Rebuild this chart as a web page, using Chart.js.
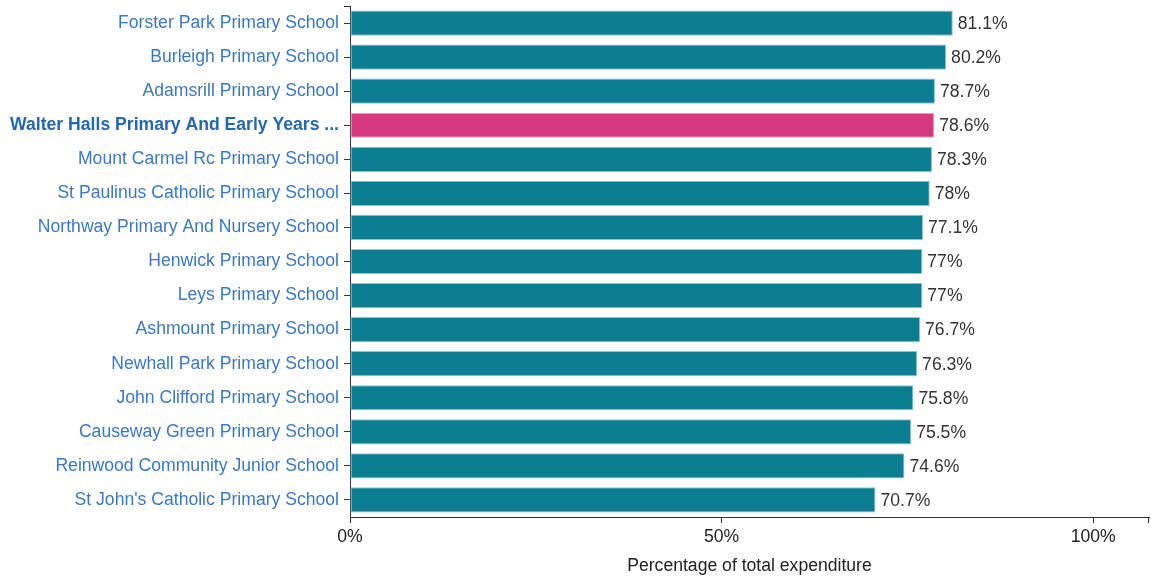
<!DOCTYPE html>
<html>
<head>
<meta charset="utf-8">
<script src="https://cdn.jsdelivr.net/npm/chart.js@4/dist/chart.umd.min.js"></script>
<style>
  body { margin: 0; background: #fff; }
  #wrap { width: 1151px; height: 580px; }
</style>
</head>
<body>
<div id="wrap"><canvas id="bar-chart" width="1151" height="580"></canvas></div>
<script>
const schools = [
  "Forster Park Primary School",
  "Burleigh Primary School",
  "Adamsrill Primary School",
  "Walter Halls Primary And Early Years ...",
  "Mount Carmel Rc Primary School",
  "St Paulinus Catholic Primary School",
  "Northway Primary And Nursery School",
  "Henwick Primary School",
  "Leys Primary School",
  "Ashmount Primary School",
  "Newhall Park Primary School",
  "John Clifford Primary School",
  "Causeway Green Primary School",
  "Reinwood Community Junior School",
  "St John's Catholic Primary School",
];
const percentages = [81.1, 80.2, 78.7, 78.6, 78.3, 78, 77.1, 77, 77, 76.7, 76.3, 75.8, 75.5, 74.6, 70.7];
const highlightIndex = 3;
const xTicks = [0, 50, 100];
const xMax = 107.5;

const teal = "#0b7e92";
const pink = "#d6387f";
const font = "Arial, 'Liberation Sans', sans-serif";
const fontSize = 17.6;

const valueLabels = {
  id: "valueLabels",
  afterDatasetsDraw(chart) {
    const ctx = chart.ctx;
    const meta = chart.getDatasetMeta(0);
    ctx.save();
    ctx.font = fontSize + "px " + font;
    ctx.fillStyle = "#333";
    ctx.textBaseline = "middle";
    ctx.textAlign = "left";
    meta.data.forEach((bar, i) => {
      ctx.fillText(percentages[i] + "%", bar.x + 5, bar.y + 1);
    });
    ctx.restore();
  },
};

// outer ticks at the axis ends, like the d3 original
const outerTicks = {
  id: "outerTicks",
  afterDraw(chart) {
    const { left, right, top, bottom } = chart.chartArea;
    const ctx = chart.ctx;
    ctx.save();
    ctx.strokeStyle = "#333";
    ctx.lineWidth = 1;
    ctx.beginPath();
    ctx.moveTo(left - 6, top + 0.5);
    ctx.lineTo(left, top + 0.5);
    ctx.moveTo(right - 0.5, bottom);
    ctx.lineTo(right - 0.5, bottom + 6);
    ctx.stroke();
    ctx.restore();
  },
};

new Chart(document.getElementById("bar-chart"), {
  type: "bar",
  data: {
    labels: schools,
    datasets: [
      {
        data: percentages,
        backgroundColor: percentages.map((v, i) => (i === highlightIndex ? pink : teal)),
        borderColor: percentages.map((v, i) => (i === highlightIndex ? "#eaa2c2" : "#8cc3cf")),
        borderWidth: 1,
        borderSkipped: false,
        barPercentage: 0.74,
        categoryPercentage: 1,
      },
    ],
  },
  plugins: [valueLabels, outerTicks],
  options: {
    indexAxis: "y",
    responsive: false,
    animation: false,
    devicePixelRatio: 1,
    layout: { padding: { top: 6, right: 2, left: 0, bottom: 0 } },
    plugins: {
      legend: { display: false },
      tooltip: { enabled: false },
    },
    scales: {
      x: {
        min: 0,
        max: xMax,
        afterBuildTicks: (axis) => {
          axis.ticks = xTicks.map((v) => ({ value: v }));
        },
        afterFit: (axis) => {
          axis.height = 63;
        },
        grid: {
          drawOnChartArea: false,
          drawTicks: true,
          tickLength: 6,
          color: "#333",
        },
        border: { display: true, color: "#333", width: 1 },
        ticks: {
          padding: 4,
          color: "#222",
          font: { family: font, size: fontSize },
          maxRotation: 0,
          callback: (v) => v + "%",
        },
        title: {
          display: true,
          text: "Percentage of total expenditure",
          color: "#222",
          font: { family: font, size: fontSize },
          padding: { top: 0, bottom: 3 },
        },
      },
      y: {
        afterFit: (axis) => {
          axis.width = 350;
          axis.paddingTop = 0;
          axis.paddingBottom = 0;
        },
        grid: {
          offset: false,
          drawOnChartArea: false,
          drawTicks: true,
          tickLength: 6,
          color: "#333",
        },
        border: { display: true, color: "#333", width: 1 },
        ticks: {
          padding: 5,
          autoSkip: false,
          color: (c) => (c.index === highlightIndex ? "#2466b0" : "#3a78c4"),
          font: (c) => ({
            family: font,
            size: fontSize,
            weight: c.index === highlightIndex ? "bold" : "normal",
          }),
        },
      },
    },
  },
});
</script>
</body>
</html>
